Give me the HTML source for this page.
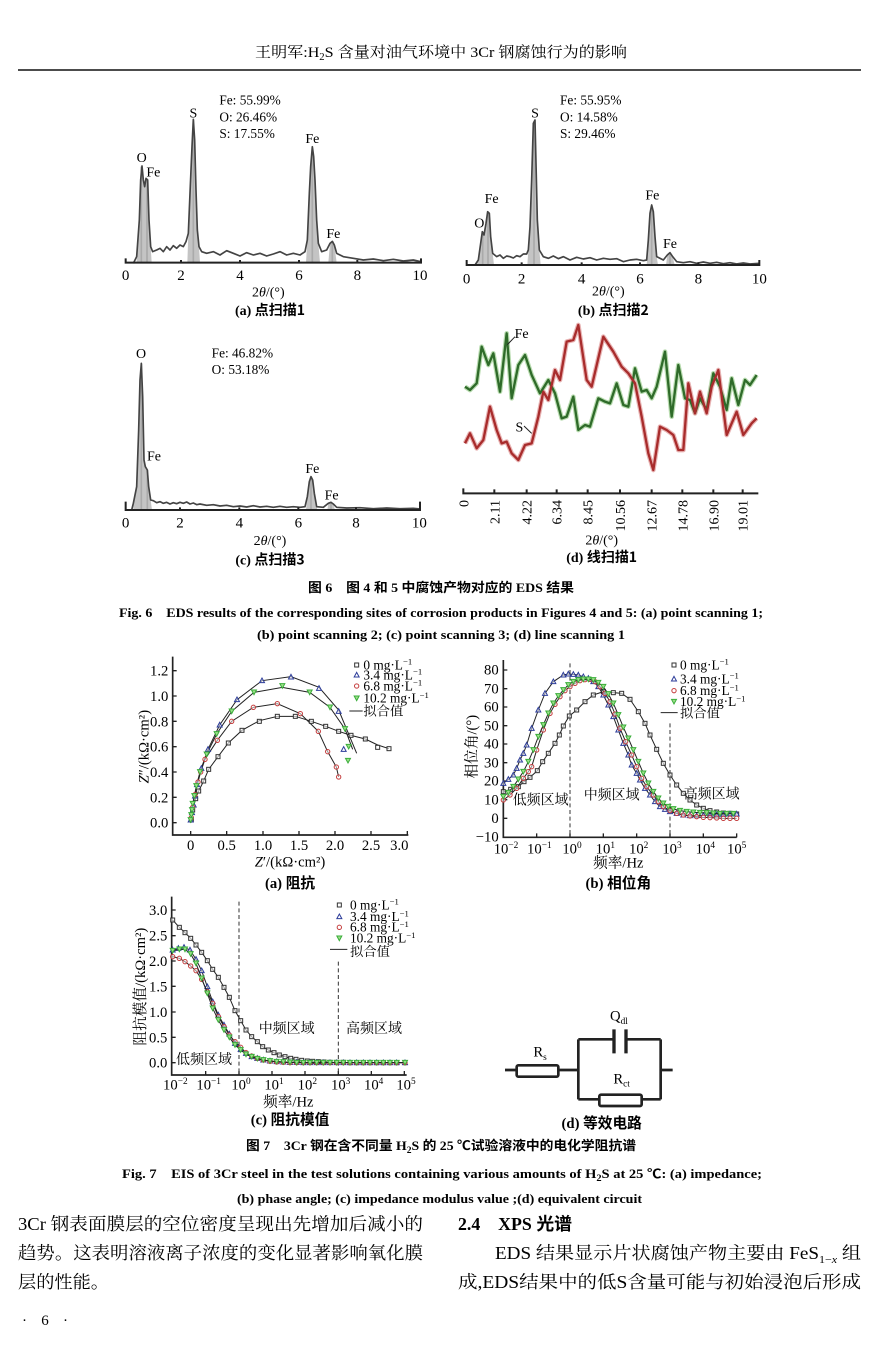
<!DOCTYPE html>
<html><head><meta charset="utf-8">
<style>
html,body{margin:0;padding:0;background:#fff;}
svg{display:block;}
</style></head>
<body>
<svg xmlns="http://www.w3.org/2000/svg" width="878" height="1345" viewBox="0 0 878 1345" font-family="'Liberation Serif','Noto Serif CJK SC',serif">
<defs>
  <marker id="msq" markerUnits="userSpaceOnUse" markerWidth="24" markerHeight="24" refX="12" refY="12" overflow="visible"><rect x="6" y="6" width="12" height="12" fill="#fff" fill-opacity="0.6" stroke="#333" stroke-width="3"/></marker>
  <marker id="mtri" markerUnits="userSpaceOnUse" markerWidth="24" markerHeight="24" refX="12" refY="12" overflow="visible"><polygon points="12,4 19.5,18 4.5,18" fill="#fff" fill-opacity="0.5" stroke="#2d3d9a" stroke-width="3"/></marker>
  <marker id="mcir" markerUnits="userSpaceOnUse" markerWidth="24" markerHeight="24" refX="12" refY="12" overflow="visible"><circle cx="12" cy="12" r="6.5" fill="#fff" fill-opacity="0.5" stroke="#c43c3c" stroke-width="3"/></marker>
  <marker id="mdtri" markerUnits="userSpaceOnUse" markerWidth="24" markerHeight="24" refX="12" refY="12" overflow="visible"><polygon points="4.5,5 19.5,5 12,19" fill="#9ddf8a" stroke="#3aae3a" stroke-width="3"/></marker>
</defs>
<rect width="878" height="1345" fill="#fff"/>

<!-- Header -->
<text x="255" y="57" font-size="15" textLength="372" lengthAdjust="spacingAndGlyphs">王明军:H<tspan font-size="10" dy="3">2</tspan><tspan dy="-3">S 含量对油气环境中 3Cr 钢腐蚀行为的影响</tspan></text>
<line x1="18" y1="70" x2="861" y2="70" stroke="#111" stroke-width="1.5"/>

<!-- EDS (a) -->
<g transform="translate(100,80) scale(0.33333)" font-size="42">
  <g fill="#c4c4c4" stroke="none">
    <polygon points="110,548 110,530 118,420 122,300 126,258 130,300 134,320 138,295 143,300 147,420 152,500 155,548"/>
    <polygon points="262,548 265,460 270,340 276,200 280,118 284,180 288,330 292,450 297,500 300,548"/>
    <polygon points="618,548 622,480 628,340 632,260 637,200 641,230 645,300 650,420 655,490 660,548"/>
    <polygon points="685,548 690,490 697,484 703,495 710,548"/>
  </g>
  <g stroke="#aaa" stroke-width="5">
    <line x1="124" y1="260" x2="124" y2="548"/><line x1="141" y1="300" x2="141" y2="548"/>
    <line x1="280" y1="120" x2="280" y2="548"/><line x1="637" y1="205" x2="637" y2="548"/><line x1="697" y1="486" x2="697" y2="548"/>
  </g>
  <path d="M100,550 L110,530 L118,420 L122,300 L126,258 L130,300 L134,320 L138,295 L143,300 L147,420 L152,500 L158,515 L170,510 L180,505 L190,515 L200,500 L210,510 L220,497 L230,505 L240,495 L250,500 L258,485 L265,460 L270,340 L276,200 L280,118 L284,180 L288,330 L292,450 L297,500 L305,515 L320,520 L340,515 L360,525 L380,512 L400,520 L420,528 L440,518 L460,525 L480,520 L500,528 L520,522 L540,515 L560,525 L580,520 L600,525 L615,515 L622,480 L628,340 L632,260 L637,200 L641,230 L645,300 L650,420 L655,490 L665,515 L680,510 L690,490 L697,484 L703,495 L710,520 L730,530 L760,535 L790,540 L820,537 L850,542 L880,538 L910,543 L940,540 L963,545" fill="none" stroke="#444" stroke-width="5" stroke-linejoin="round"/>
  <path d="M77,535 V548 H963 V535 M243,548 v-8 M420,548 v-8 M597,548 v-8 M772,548 v-8" fill="none" stroke="#222" stroke-width="6"/>
  <g text-anchor="middle" font-size="45">
    <text x="77" y="600">0</text><text x="243" y="600">2</text><text x="420" y="600">4</text><text x="597" y="600">6</text><text x="772" y="600">8</text><text x="960" y="600">10</text>
  </g>
  <text x="505" y="650" text-anchor="middle" font-size="42">2<tspan font-style="italic">θ</tspan>/(°)</text>
  <text x="510" y="705" text-anchor="middle" font-size="42" font-weight="bold">(a) <tspan font-family="'Noto Sans CJK SC',sans-serif">点扫描1</tspan></text>
  <g font-size="40">
    <text x="358" y="74">Fe: 55.99%</text><text x="358" y="124">O: 26.46%</text><text x="358" y="174">S: 17.55%</text>
  </g>
  <g text-anchor="middle" font-size="42">
    <text x="280" y="112">S</text><text x="125" y="246">O</text><text x="160" y="289">Fe</text><text x="637" y="189">Fe</text><text x="700" y="474">Fe</text>
  </g>
</g>

<!-- EDS (b) -->
<g transform="translate(450,80) scale(0.33333)" font-size="42">
  <g fill="#c4c4c4">
    <polygon points="80,555 85,540 92,490 97,455 102,465 108,430 113,395 118,400 122,470 128,520 132,555"/>
    <polygon points="232,555 235,510 240,440 245,300 250,130 255,120 258,250 262,420 268,510 272,555"/>
    <polygon points="590,555 595,480 600,400 605,375 610,395 615,470 620,530 624,555"/>
    <polygon points="648,555 652,525 660,518 668,530 674,555"/>
  </g>
  <g stroke="#aaa" stroke-width="5">
    <line x1="98" y1="458" x2="98" y2="555"/><line x1="114" y1="398" x2="114" y2="555"/><line x1="252" y1="125" x2="252" y2="555"/><line x1="605" y1="378" x2="605" y2="555"/><line x1="660" y1="520" x2="660" y2="555"/>
  </g>
  <path d="M75,555 L85,540 L92,490 L97,455 L102,465 L108,430 L113,395 L118,400 L122,470 L128,520 L140,530 L150,525 L160,535 L170,528 L180,530 L190,534 L200,527 L210,530 L220,522 L230,522 L235,510 L240,440 L245,300 L250,130 L255,120 L258,250 L262,420 L268,510 L280,530 L295,535 L310,528 L325,536 L340,530 L360,540 L380,532 L400,537 L420,533 L440,540 L460,535 L480,538 L500,536 L520,545 L540,540 L560,538 L580,542 L590,540 L595,480 L600,400 L605,375 L610,395 L615,470 L620,530 L640,540 L652,525 L660,518 L668,530 L680,545 L700,548 L720,545 L740,550 L760,546 L780,550 L800,547 L820,551 L840,548 L860,552 L880,549 L900,552 L928,550" fill="none" stroke="#444" stroke-width="5" stroke-linejoin="round"/>
  <path d="M50,540 V555 H928 V540 M215,555 v-8 M395,555 v-8 M570,555 v-8 M745,555 v-8" fill="none" stroke="#222" stroke-width="6"/>
  <g text-anchor="middle" font-size="45">
    <text x="50" y="610">0</text><text x="215" y="610">2</text><text x="395" y="610">4</text><text x="570" y="610">6</text><text x="745" y="610">8</text><text x="928" y="610">10</text>
  </g>
  <text x="475" y="647" text-anchor="middle">2<tspan font-style="italic">θ</tspan>/(°)</text>
  <text x="490" y="705" text-anchor="middle" font-weight="bold">(b) <tspan font-family="'Noto Sans CJK SC',sans-serif">点扫描2</tspan></text>
  <g font-size="40">
    <text x="330" y="74">Fe: 55.95%</text><text x="330" y="124">O: 14.58%</text><text x="330" y="174">S: 29.46%</text>
  </g>
  <g text-anchor="middle">
    <text x="255" y="112">S</text><text x="125" y="369">Fe</text><text x="88" y="442">O</text><text x="607" y="359">Fe</text><text x="660" y="504">Fe</text>
  </g>
</g>

<!-- EDS (c) -->
<g transform="translate(100,330) scale(0.33333)" font-size="42">
  <g fill="#c4c4c4">
    <polygon points="100,540 100,520 110,470 116,300 120,150 124,100 128,200 132,390 136,410 142,420 146,470 152,510 156,540"/>
    <polygon points="618,540 622,500 628,455 633,440 638,450 643,490 650,530 652,540"/>
    <polygon points="682,540 685,520 693,517 700,522 705,540"/>
  </g>
  <g stroke="#aaa" stroke-width="5">
    <line x1="124" y1="102" x2="124" y2="540"/><line x1="142" y1="420" x2="142" y2="540"/><line x1="633" y1="442" x2="633" y2="540"/><line x1="693" y1="518" x2="693" y2="540"/>
  </g>
  <path d="M95,540 L100,520 L110,470 L116,300 L120,150 L124,100 L128,200 L132,390 L136,410 L142,420 L146,470 L152,510 L160,512 L170,518 L180,515 L190,520 L200,517 L210,522 L220,518 L230,521 L240,517 L250,520 L260,516 L270,522 L280,519 L290,524 L300,522 L320,526 L340,524 L360,528 L380,526 L400,530 L420,528 L440,531 L460,527 L480,531 L500,529 L520,532 L540,529 L560,532 L580,530 L600,532 L615,530 L622,500 L628,455 L633,440 L638,450 L643,490 L650,530 L670,532 L685,520 L693,517 L700,522 L710,532 L740,534 L780,533 L820,536 L860,534 L900,536 L940,535 L960,537" fill="none" stroke="#444" stroke-width="5" stroke-linejoin="round"/>
  <path d="M77,515 V540 H960 V515 M240,540 v-8 M418,540 v-8 M595,540 v-8 M768,540 v-8" fill="none" stroke="#222" stroke-width="6"/>
  <g text-anchor="middle" font-size="45">
    <text x="77" y="593">0</text><text x="240" y="593">2</text><text x="418" y="593">4</text><text x="595" y="593">6</text><text x="768" y="593">8</text><text x="958" y="593">10</text>
  </g>
  <text x="510" y="645" text-anchor="middle">2<tspan font-style="italic">θ</tspan>/(°)</text>
  <text x="510" y="703" text-anchor="middle" font-weight="bold">(c) <tspan font-family="'Noto Sans CJK SC',sans-serif">点扫描3</tspan></text>
  <g font-size="40">
    <text x="335" y="82">Fe: 46.82%</text><text x="335" y="132">O: 53.18%</text>
  </g>
  <g text-anchor="middle">
    <text x="123" y="84">O</text><text x="162" y="392">Fe</text><text x="637" y="429">Fe</text><text x="695" y="509">Fe</text>
  </g>
</g>

<!-- Line scan (d) -->
<g transform="translate(450,320) scale(0.33333)" font-size="42">
  <path d="M45,200 L60,210 L80,190 L95,80 L115,135 L130,100 L150,215 L170,40 L185,235 L205,135 L225,105 L245,165 L270,220 L295,180 L315,220 L335,295 L350,290 L370,230 L385,330 L405,315 L420,320 L445,235 L465,245 L480,250 L500,190 L520,255 L535,260 L555,145 L575,215 L590,210 L605,235 L620,200 L645,95 L665,290 L685,135 L705,235 L720,240 L735,280 L750,235 L770,270 L790,160 L810,200 L830,270 L845,175 L865,255 L885,180 L900,195 L920,165" fill="none" stroke="#b9dcb0" stroke-width="14" stroke-linejoin="round"/>
  <path d="M45,370 L60,340 L80,385 L100,360 L120,260 L140,330 L155,370 L170,365 L185,400 L205,420 L225,375 L245,370 L265,290 L280,215 L295,240 L315,150 L330,180 L350,65 L370,60 L385,15 L410,180 L425,200 L460,50 L490,95 L515,140 L535,160 L555,190 L575,290 L595,400 L610,450 L630,320 L650,330 L670,345 L685,390 L700,390 L715,190 L735,280 L750,215 L770,280 L785,200 L805,150 L830,345 L860,275 L880,345 L905,310 L920,295" fill="none" stroke="#e8b4b4" stroke-width="14" stroke-linejoin="round"/>
  <path d="M45,200 L60,210 L80,190 L95,80 L115,135 L130,100 L150,215 L170,40 L185,235 L205,135 L225,105 L245,165 L270,220 L295,180 L315,220 L335,295 L350,290 L370,230 L385,330 L405,315 L420,320 L445,235 L465,245 L480,250 L500,190 L520,255 L535,260 L555,145 L575,215 L590,210 L605,235 L620,200 L645,95 L665,290 L685,135 L705,235 L720,240 L735,280 L750,235 L770,270 L790,160 L810,200 L830,270 L845,175 L865,255 L885,180 L900,195 L920,165" fill="none" stroke="#2f6b2a" stroke-width="7" stroke-linejoin="round"/>
  <path d="M45,370 L60,340 L80,385 L100,360 L120,260 L140,330 L155,370 L170,365 L185,400 L205,420 L225,375 L245,370 L265,290 L280,215 L295,240 L315,150 L330,180 L350,65 L370,60 L385,15 L410,180 L425,200 L460,50 L490,95 L515,140 L535,160 L555,190 L575,290 L595,400 L610,450 L630,320 L650,330 L670,345 L685,390 L700,390 L715,190 L735,280 L750,215 L770,280 L785,200 L805,150 L830,345 L860,275 L880,345 L905,310 L920,295" fill="none" stroke="#a82c2c" stroke-width="7" stroke-linejoin="round"/>
  <path d="M172,74 L195,50 M222,318 L245,340" stroke="#222" stroke-width="3"/>
  <text x="215" y="54" text-anchor="middle">Fe</text>
  <text x="208" y="334" text-anchor="middle">S</text>
  <path d="M40,505 V520 H925 M133,520 v-12 M230,520 v-12 M320,520 v-12 M413,520 v-12 M510,520 v-12 M605,520 v-12 M697,520 v-12 M790,520 v-12 M878,520 v-12" fill="none" stroke="#222" stroke-width="6"/>
  <g text-anchor="end" font-size="42">
    <text transform="translate(55,540) rotate(-90)">0</text>
    <text transform="translate(148,540) rotate(-90)">2.11</text>
    <text transform="translate(245,540) rotate(-90)">4.22</text>
    <text transform="translate(335,540) rotate(-90)">6.34</text>
    <text transform="translate(428,540) rotate(-90)">8.45</text>
    <text transform="translate(525,540) rotate(-90)">10.56</text>
    <text transform="translate(620,540) rotate(-90)">12.67</text>
    <text transform="translate(712,540) rotate(-90)">14.78</text>
    <text transform="translate(805,540) rotate(-90)">16.90</text>
    <text transform="translate(893,540) rotate(-90)">19.01</text>
  </g>
  <text x="455" y="674" text-anchor="middle">2<tspan font-style="italic">θ</tspan>/(°)</text>
  <text x="455" y="726" text-anchor="middle" font-weight="bold">(d) <tspan font-family="'Noto Sans CJK SC',sans-serif">线扫描1</tspan></text>
</g>

<!-- Fig 6 captions -->
<g font-weight="bold" font-family="'Liberation Serif','Noto Sans CJK SC',sans-serif">
  <text x="308" y="592" font-size="13" textLength="266" lengthAdjust="spacingAndGlyphs">图 6　图 4 和 5 中腐蚀产物对应的 EDS 结果</text>
  <text x="119" y="617" font-size="12.5" textLength="644" lengthAdjust="spacingAndGlyphs">Fig. 6　EDS results of the corresponding sites of corrosion products in Figures 4 and 5: (a) point scanning 1;</text>
  <text x="257" y="639" font-size="12.5" textLength="368" lengthAdjust="spacingAndGlyphs">(b) point scanning 2; (c) point scanning 3; (d) line scanning 1</text>
</g>

<!-- Fig 7 (a) Nyquist -->
<g transform="translate(130,650) scale(0.33333)" font-size="44">
  <path d="M128,20 V555 H835" stroke="#222" stroke-width="5" fill="none"/>
  <path d="M128,62 h12 M128,138 h12 M128,214 h12 M128,290 h12 M128,366 h12 M128,442 h12 M128,518 h12 M182,555 v-12 M290,555 v-12 M399,555 v-12 M507,555 v-12 M615,555 v-12 M723,555 v-12 M832,555 v-12" stroke="#222" stroke-width="4"/>
  <g text-anchor="end">
    <text x="115" y="77">1.2</text><text x="115" y="153">1.0</text><text x="115" y="229">0.8</text><text x="115" y="305">0.6</text><text x="115" y="381">0.4</text><text x="115" y="457">0.2</text><text x="115" y="533">0.0</text>
  </g>
  <g text-anchor="middle">
    <text x="182" y="600">0</text><text x="290" y="600">0.5</text><text x="399" y="600">1.0</text><text x="507" y="600">1.5</text><text x="615" y="600">2.0</text><text x="723" y="600">2.5</text><text x="808" y="600">3.0</text>
  </g>
  <text transform="translate(55,290) rotate(-90)" text-anchor="middle"><tspan font-style="italic">Z</tspan>″/(kΩ·cm²)</text>
  <text x="480" y="650" text-anchor="middle"><tspan font-style="italic">Z</tspan>′/(kΩ·cm²)</text>
  <text x="480" y="714" text-anchor="middle" font-weight="bold">(a) <tspan font-family="'Noto Sans CJK SC',sans-serif">阻抗</tspan></text>
  <g fill="none" stroke="#222" stroke-width="3">
    <path d="M182,518 L188,480 L197,446 L206,423 L221,393 L236,358 L264,320 L295,279 L336,241 L388,212 L442,199 L496,199 L544,214 L587,229 L626,244 L663,256 L706,267 L743,285 L777,296"/>
    <path d="M182,518 L186,488 L191,465 L195,438 L201,404 L214,355 L234,298 L269,225 L321,149 L396,92 L483,80 L567,112 L626,180 L680,310"/>
    <path d="M182,518 L184,503 L188,472 L195,434 L204,396 L212,366 L225,328 L262,271 L305,214 L370,172 L442,161 L511,191 L565,244 L593,305 L619,351 L626,381"/>
    <path d="M182,518 L184,495 L188,461 L193,438 L199,408 L210,366 L230,313 L260,252 L305,184 L372,127 L457,112 L539,127 L600,172 L645,237 L668,298"/>
  </g>
  <polyline fill="none" stroke="none" marker-start="url(#msq)" marker-mid="url(#msq)" marker-end="url(#msq)" points="184,510 188,480 197,446 206,423 221,393 236,358 264,320 295,279 336,241 388,214 442,199 496,199 544,214 587,229 626,244 663,256 706,267 743,292 777,296"/>
  <polyline fill="none" stroke="none" marker-start="url(#mtri)" marker-mid="url(#mtri)" marker-end="url(#mtri)" points="182,510 186,488 191,465 195,438 201,404 214,355 234,298 269,225 321,149 396,92 483,81 567,115 626,184 641,298"/>
  <polyline fill="none" stroke="none" marker-start="url(#mcir)" marker-mid="url(#mcir)" marker-end="url(#mcir)" points="184,503 188,472 195,434 204,396 212,366 225,328 262,271 305,214 370,172 442,161 511,191 565,244 593,305 619,351 626,381"/>
  <polyline fill="none" stroke="none" marker-start="url(#mdtri)" marker-mid="url(#mdtri)" marker-end="url(#mdtri)" points="182,510 184,495 186,480 188,461 193,438 199,408 210,366 230,313 260,252 305,184 372,127 457,108 539,127 600,172 645,237 656,290 654,332"/>
  <g font-size="40">
    <path d="M680,45 h0.01" marker-start="url(#msq)"/><text x="700" y="58">0 mg·L<tspan dy="-14" font-size="26">−1</tspan></text>
    <path d="M680,75 h0.01" marker-start="url(#mtri)"/><text x="700" y="88">3.4 mg·L<tspan dy="-14" font-size="26">−1</tspan></text>
    <path d="M680,108 h0.01" marker-start="url(#mcir)"/><text x="700" y="121">6.8 mg·L<tspan dy="-14" font-size="26">−1</tspan></text>
    <path d="M680,145 h0.01" marker-start="url(#mdtri)"/><text x="700" y="158">10.2 mg·L<tspan dy="-14" font-size="26">−1</tspan></text>
    <line x1="658" y1="183" x2="698" y2="183" stroke="#222" stroke-width="3"/><text x="700" y="197">拟合值</text>
  </g>
</g>

<!-- Fig 7 (b) Phase -->
<g transform="translate(450,640) scale(0.33333)" font-size="44">
  <path d="M160,60 V592 H860" stroke="#222" stroke-width="5" fill="none"/>
  <path d="M160,90 h12 M160,146 h12 M160,201 h12 M160,257 h12 M160,312 h12 M160,368 h12 M160,423 h12 M160,479 h12 M160,535 h12 M260,592 v-12 M360,592 v-12 M460,592 v-12 M560,592 v-12 M660,592 v-12 M760,592 v-12 M860,592 v-12" stroke="#222" stroke-width="4"/>
  <g text-anchor="end">
    <text x="146" y="104">80</text><text x="146" y="160">70</text><text x="146" y="215">60</text><text x="146" y="271">50</text><text x="146" y="326">40</text><text x="146" y="382">30</text><text x="146" y="437">20</text><text x="146" y="493">10</text><text x="146" y="549">0</text><text x="146" y="604">−10</text>
  </g>
  <g text-anchor="middle">
    <text x="168" y="640">10<tspan dy="-16" font-size="28">−2</tspan></text>
    <text x="268" y="640">10<tspan dy="-16" font-size="28">−1</tspan></text>
    <text x="366" y="640">10<tspan dy="-16" font-size="28">0</tspan></text>
    <text x="466" y="640">10<tspan dy="-16" font-size="28">1</tspan></text>
    <text x="566" y="640">10<tspan dy="-16" font-size="28">2</tspan></text>
    <text x="666" y="640">10<tspan dy="-16" font-size="28">3</tspan></text>
    <text x="766" y="640">10<tspan dy="-16" font-size="28">4</tspan></text>
    <text x="860" y="640">10<tspan dy="-16" font-size="28">5</tspan></text>
  </g>
  <path d="M360,70 V592 M660,250 V592" stroke="#333" stroke-width="3" stroke-dasharray="12,8"/>
  <g font-size="42" text-anchor="middle">
    <text x="272" y="494">低频区域</text><text x="485" y="479">中频区域</text><text x="785" y="476">高频区域</text>
  </g>
  <text transform="translate(80,320) rotate(-90)" text-anchor="middle">相位角/(°)</text>
  <text x="505" y="682" text-anchor="middle">频率/Hz</text>
  <text x="505" y="744" text-anchor="middle" font-weight="bold">(b) <tspan font-family="'Noto Sans CJK SC',sans-serif">相位角</tspan></text>
  <polyline fill="none" stroke="#222" stroke-width="3" marker-start="url(#msq)" marker-mid="url(#msq)" marker-end="url(#msq)" points="160,455 182,448 205,440 222,425 240,412 262,392 278,365 295,340 315,310 328,285 340,258 358,228 380,210 405,185 430,165 460,155 490,158 515,160 540,178 565,215 585,250 600,285 620,328 640,370 660,405 680,435 700,460 720,480 740,495 760,505 780,512 800,516 820,519 840,520 860,522"/>
  <polyline fill="none" stroke="#222" stroke-width="3" marker-start="url(#mtri)" marker-mid="url(#mtri)" marker-end="url(#mtri)" points="160,430 175,418 190,405 200,385 210,360 220,340 230,315 245,265 265,210 285,160 310,125 340,105 355,102 370,103 385,105 400,110 415,115 430,125 445,140 460,165 475,195 490,230 505,270 520,310 535,345 545,375 560,400 570,420 585,445 600,465 615,485 630,500 645,508 660,515 680,520 700,525 720,527 740,527 760,526 780,525 800,524 820,523 840,522 860,522"/>
  <polyline fill="none" stroke="#222" stroke-width="3" marker-start="url(#mcir)" marker-mid="url(#mcir)" marker-end="url(#mcir)" points="160,480 180,465 200,445 220,415 235,395 245,380 260,330 280,270 300,220 315,193 330,170 345,152 360,140 375,130 390,122 405,119 420,118 435,125 450,140 465,160 480,185 495,222 510,265 527,305 545,345 560,380 575,415 590,440 610,465 625,485 640,500 660,512 680,520 700,525 720,528 740,530 760,532 780,533 800,534 820,535 840,535 860,535"/>
  <polyline fill="none" stroke="#222" stroke-width="3" marker-start="url(#mdtri)" marker-mid="url(#mdtri)" marker-end="url(#mdtri)" points="160,470 175,458 190,440 205,418 220,395 235,365 250,330 265,290 280,255 295,220 310,190 325,168 340,150 355,135 370,125 385,120 400,118 415,118 430,120 445,128 460,140 475,162 490,190 505,225 520,262 535,295 550,330 565,365 580,400 595,430 610,455 625,475 640,490 655,500 670,507 690,512 710,515 730,517 750,518 770,519 790,520 810,521 830,521 850,521"/>
  <g font-size="40">
    <path d="M672,75 h0.01" marker-start="url(#msq)"/><text x="690" y="88">0 mg·L<tspan dy="-14" font-size="26">−1</tspan></text>
    <path d="M672,117 h0.01" marker-start="url(#mtri)"/><text x="690" y="130">3.4 mg·L<tspan dy="-14" font-size="26">−1</tspan></text>
    <path d="M672,152 h0.01" marker-start="url(#mcir)"/><text x="690" y="165">6.8 mg·L<tspan dy="-14" font-size="26">−1</tspan></text>
    <path d="M672,185 h0.01" marker-start="url(#mdtri)"/><text x="690" y="198">10.2 mg·L<tspan dy="-14" font-size="26">−1</tspan></text>
    <line x1="632" y1="218" x2="683" y2="218" stroke="#222" stroke-width="3"/><text x="690" y="232">拟合值</text>
  </g>
</g>

<!-- Fig 7 (c) Modulus -->
<g transform="translate(130,890) scale(0.33333)" font-size="44">
  <path d="M125,20 V555 H830" stroke="#222" stroke-width="5" fill="none"/>
  <path d="M125,60 h12 M125,137 h12 M125,213 h12 M125,289 h12 M125,366 h12 M125,442 h12 M125,518 h12 M227,555 v-12 M327,555 v-12 M426,555 v-12 M525,555 v-12 M625,555 v-12 M724,555 v-12 M823,555 v-12" stroke="#222" stroke-width="4"/>
  <g text-anchor="end">
    <text x="112" y="75">3.0</text><text x="112" y="152">2.5</text><text x="112" y="228">2.0</text><text x="112" y="304">1.5</text><text x="112" y="381">1.0</text><text x="112" y="457">0.5</text><text x="112" y="533">0.0</text>
  </g>
  <g text-anchor="middle">
    <text x="136" y="598">10<tspan dy="-16" font-size="28">−2</tspan></text>
    <text x="236" y="598">10<tspan dy="-16" font-size="28">−1</tspan></text>
    <text x="333" y="598">10<tspan dy="-16" font-size="28">0</tspan></text>
    <text x="432" y="598">10<tspan dy="-16" font-size="28">1</tspan></text>
    <text x="532" y="598">10<tspan dy="-16" font-size="28">2</tspan></text>
    <text x="632" y="598">10<tspan dy="-16" font-size="28">3</tspan></text>
    <text x="731" y="598">10<tspan dy="-16" font-size="28">4</tspan></text>
    <text x="828" y="598">10<tspan dy="-16" font-size="28">5</tspan></text>
  </g>
  <path d="M327,35 V555 M625,215 V555" stroke="#333" stroke-width="3" stroke-dasharray="12,8"/>
  <g font-size="42" text-anchor="middle">
    <text x="222" y="522">低频区域</text><text x="470" y="429">中频区域</text><text x="732" y="429">高频区域</text>
  </g>
  <text transform="translate(45,290) rotate(-90)" text-anchor="middle">阻抗模值/(kΩ·cm²)</text>
  <text x="475" y="650" text-anchor="middle">频率/Hz</text>
  <text x="480" y="704" text-anchor="middle" font-weight="bold">(c) <tspan font-family="'Noto Sans CJK SC',sans-serif">阻抗模值</tspan></text>
  <polyline fill="none" stroke="#222" stroke-width="3" marker-start="url(#msq)" marker-mid="url(#msq)" marker-end="url(#msq)" points="128,90 148,112 165,128 182,145 198,165 215,187 232,212 248,238 265,262 282,292 298,322 315,362 332,392 348,420 365,440 382,455 398,470 415,480 432,488 448,495 465,500 482,505 498,508 515,511 532,513 548,514 565,515 582,516 600,517 620,517 640,517 660,518 680,518 700,518 720,518 740,518 760,518 780,518 800,518 825,518"/>
  <polyline fill="none" stroke="#222" stroke-width="3" marker-start="url(#mtri)" marker-mid="url(#mtri)" marker-end="url(#mtri)" points="128,180 145,175 162,172 180,180 198,208 215,242 232,290 248,335 265,375 282,405 298,432 315,460 332,478 348,490 365,500 382,505 400,510 420,513 440,515 460,516 480,517 500,517 520,518 540,518 560,518 580,518 600,518 620,518 640,518 660,518 680,518 700,518 720,518 740,518 760,518 780,518 800,518 825,518"/>
  <polyline fill="none" stroke="#222" stroke-width="3" marker-start="url(#mcir)" marker-mid="url(#mcir)" marker-end="url(#mcir)" points="128,200 148,205 165,215 182,228 198,242 215,268 232,305 248,340 265,380 282,410 298,435 315,455 332,472 348,488 365,498 382,505 400,510 420,514 440,516 460,517 480,518 500,518 520,518 540,518 560,518 580,518 600,518 620,518 640,518 660,518 680,518 700,518 720,518 740,518 760,518 780,518 800,518 825,518"/>
  <polyline fill="none" stroke="#222" stroke-width="3" marker-start="url(#mdtri)" marker-mid="url(#mdtri)" marker-end="url(#mdtri)" points="128,182 148,178 165,178 182,192 198,220 215,265 232,310 248,355 265,390 282,420 298,442 315,465 332,480 348,493 365,500 382,506 400,510 420,513 440,515 460,516 480,517 500,518 520,518 540,518 560,518 580,518 600,518 620,518 640,518 660,518 680,518 700,518 720,518 740,518 760,518 780,518 800,518 825,518"/>
  <g font-size="40">
    <path d="M628,45 h0.01" marker-start="url(#msq)"/><text x="660" y="58">0 mg·L<tspan dy="-14" font-size="26">−1</tspan></text>
    <path d="M628,80 h0.01" marker-start="url(#mtri)"/><text x="660" y="93">3.4 mg·L<tspan dy="-14" font-size="26">−1</tspan></text>
    <path d="M628,112 h0.01" marker-start="url(#mcir)"/><text x="660" y="125">6.8 mg·L<tspan dy="-14" font-size="26">−1</tspan></text>
    <path d="M628,145 h0.01" marker-start="url(#mdtri)"/><text x="660" y="158">10.2 mg·L<tspan dy="-14" font-size="26">−1</tspan></text>
    <line x1="600" y1="178" x2="652" y2="178" stroke="#222" stroke-width="3"/><text x="660" y="198">拟合值</text>
  </g>
</g>

<!-- Fig 7 (d) Circuit -->
<g transform="translate(470,990) scale(0.33333)" font-size="44">
  <g fill="none" stroke="#222" stroke-width="8">
    <path d="M105,240 H140 M265,240 H325 M325,148 V328 M325,148 H432 M468,148 H572 M572,148 V328 M572,240 H608 M325,328 H388 M515,328 H572"/>
    <rect x="140" y="226" width="125" height="34" rx="5"/>
    <rect x="388" y="314" width="127" height="34" rx="5"/>
    <path d="M432,118 V190 M468,118 V190" stroke-width="10"/>
  </g>
  <text x="190" y="200">R<tspan font-size="28" dy="10">s</tspan></text>
  <text x="420" y="92">Q<tspan font-size="28" dy="10">dl</tspan></text>
  <text x="430" y="280">R<tspan font-size="28" dy="10">ct</tspan></text>
  <text x="395" y="414" text-anchor="middle" font-weight="bold">(d) <tspan font-family="'Noto Sans CJK SC',sans-serif">等效电路</tspan></text>
</g>

<!-- Fig 7 captions -->
<g font-weight="bold" font-family="'Liberation Serif','Noto Sans CJK SC',sans-serif">
  <text x="246" y="1150" font-size="13" textLength="390" lengthAdjust="spacingAndGlyphs">图 7　3Cr 钢在含不同量 H<tspan font-size="9" dy="3">2</tspan><tspan dy="-3">S 的 25 ℃试验溶液中的电化学阻抗谱</tspan></text>
  <text x="122" y="1178" font-size="12.5" textLength="640" lengthAdjust="spacingAndGlyphs">Fig. 7　EIS of 3Cr steel in the test solutions containing various amounts of H<tspan font-size="9" dy="3">2</tspan><tspan dy="-3">S at 25 ℃: (a) impedance;</tspan></text>
  <text x="237" y="1203" font-size="12.5" textLength="405" lengthAdjust="spacingAndGlyphs">(b) phase angle; (c) impedance modulus value ;(d) equivalent circuit</text>
</g>

<!-- Body text -->
<g font-size="17.5" font-family="'Liberation Serif','Noto Serif CJK SC',serif">
  <text x="18" y="1230" textLength="405" lengthAdjust="spacingAndGlyphs">3Cr 钢表面膜层的空位密度呈现出先增加后减小的</text>
  <text x="18" y="1259" textLength="405" lengthAdjust="spacingAndGlyphs">趋势。这表明溶液离子浓度的变化显著影响氧化膜</text>
  <text x="18" y="1288" textLength="91" lengthAdjust="spacingAndGlyphs">层的性能。</text>
  <text x="458" y="1230" font-weight="bold" font-family="'Liberation Serif','Noto Sans CJK SC',sans-serif" textLength="114" lengthAdjust="spacingAndGlyphs">2.4　XPS 光谱</text>
  <text x="495" y="1259" textLength="366" lengthAdjust="spacingAndGlyphs">EDS 结果显示片状腐蚀产物主要由 FeS<tspan font-size="11" dy="4">1−<tspan font-style="italic">x</tspan></tspan><tspan dy="-4"> 组</tspan></text>
  <text x="458" y="1288" textLength="403" lengthAdjust="spacingAndGlyphs">成,EDS结果中的低S含量可能与初始浸泡后形成</text>
  <text x="22" y="1325" font-size="15" textLength="46" lengthAdjust="spacing">· 6 ·</text>
</g>
</svg>
</body></html>
